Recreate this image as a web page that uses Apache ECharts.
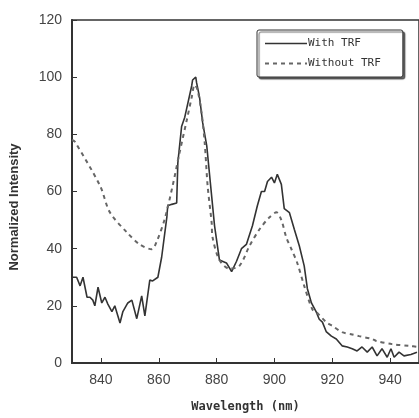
<!DOCTYPE html>
<html>
<head>
<meta charset="utf-8">
<script src="https://cdn.jsdelivr.net/npm/echarts@6/dist/echarts.min.js"></script>
<style>
html,body{margin:0;padding:0;background:#fff;}
#main{width:419px;height:418px;}
</style>
</head>
<body>
<div id="main"></div>
<script>
// wavelength (nm) / normalized intensity
var withTRF = [
  [830.3,30],[831.6,30],[832.8,27],[833.8,30],[835.2,23],[836.2,23],[837.2,22],[837.9,20],
  [839.0,26.5],[840.3,21],[841.4,23],[842.4,20.6],[843.8,18],[844.8,20],[846.6,14],[847.6,18],
  [849.3,21],[850.7,22],[852.4,15.5],[854.1,23.5],[855.2,16.5],[856.9,29],[857.9,28.7],[859.7,30],
  [861.0,37],[862.8,51],[863.1,55],[864.5,55.5],[866.2,56],[866.6,70],[867.9,82.7],[869.0,86],
  [871.4,97],[871.7,99],[872.8,100],[873.1,98],[874.1,93],[875.2,84],[876.6,76],[879.3,48],
  [881.0,36],[883.4,35],[885.2,32],[886.9,35.6],[888.6,40],[890.3,41.5],[892.4,48],[894.1,55],
  [895.5,60],[896.6,60],[897.6,63.5],[899.0,65],[900.0,63],[901.0,66],[902.4,62.5],[903.4,54],
  [905.2,52.6],[906.9,46.7],[908.6,41],[910.3,34],[911.4,26],[912.8,21],[914.5,17.8],[915.5,15.3],
  [916.6,14.3],[917.9,11],[919.7,9.4],[921.4,8.4],[923.4,6],[925.2,5.6],[926.9,5],[928.6,4.2],
  [930.3,5.6],[932.1,3.8],[933.8,5.6],[935.5,2.5],[937.2,5],[939.0,2],[940.3,5],[941.4,2],
  [943.1,3.8],[944.8,2.5],[947.2,3],[949.3,3.8]
];
var withoutTRF = [
  [830,78],[831.0,77.4],[839.7,62],[843.1,52.7],[849.0,45.7],[853.4,41.5],[857.6,39.8],[859.3,42.5],
  [862.1,50.5],[864.8,62],[867.2,73.6],[869.7,85],[871.4,93],[872.4,97.3],[873.4,95.6],[874.8,87.5],
  [875.9,77],[876.9,62],[878.3,49],[878.6,44],[881.0,36],[884.5,33],[887.9,34],[891.4,41],
  [894.8,46.7],[898.3,51],[900.7,52.7],[902.4,50],[904.1,44],[905.9,39.8],[907.9,35],[910.3,27],
  [913.1,18.8],[914.5,17.8],[917.9,14.3],[920.0,13],[923.4,10.8],[926.9,10],[929.3,9.4],[933.8,8.4],
  [935.2,7.7],[940.7,6.6],[946.6,6],[949.7,5.6]
];
var xTicks = [840, 860, 880, 900, 920, 940];
var seriesNames = ['With TRF', 'Without TRF'];

var font = "'Liberation Sans Narrow', 'Liberation Sans', Arial, sans-serif";
var mono = "'DejaVu Sans Mono', monospace";
// legend samples: a plain line and a dashed one
var solidIcon = 'path://M0,0h42v1.5H0z';
var dashIcon = 'path://M0,0h4v2H0zM8,0h4v2H8zM16,0h4v2H16zM24,0h4v2H24zM32,0h4v2H32zM40,0h2v2H40z';

var myChart = echarts.init(document.getElementById('main'));
var option = {
  animation: false,
  backgroundColor: '#fff',
  grid: {
    left: 72, top: 20, right: -1, bottom: 54,
    show: true, borderColor: '#333', borderWidth: 1.5
  },
  legend: {
    data: [
      { name: seriesNames[0], icon: solidIcon },
      { name: seriesNames[1], icon: dashIcon }
    ],
    orient: 'vertical',
    left: 257, top: 30,
    itemWidth: 42, itemHeight: 2, itemGap: 9,
    padding: [8, 22, 8, 8],
    backgroundColor: '#fff',
    borderColor: '#333', borderWidth: 1, borderRadius: 2,
    shadowColor: 'rgba(0,0,0,0.6)', shadowOffsetX: 2, shadowOffsetY: 2, shadowBlur: 1,
    textStyle: { fontFamily: mono, fontSize: 11, color: '#333', padding: [0, 0, 0, -4] }
  },
  xAxis: {
    type: 'value', min: 830, max: 950,
    name: 'Wavelength (nm)', nameLocation: 'middle', nameGap: 38,
    nameTextStyle: { fontFamily: mono, fontSize: 12, fontWeight: 'bold', color: '#333' },
    axisLine: { lineStyle: { color: '#333', width: 2 } },
    axisTick: { inside: true, length: 5, customValues: xTicks, lineStyle: { color: '#333' } },
    axisLabel: { customValues: xTicks, margin: 10, fontFamily: font, fontSize: 14, color: '#444' },
    splitLine: { show: false }
  },
  yAxis: {
    type: 'value', min: 0, max: 120, interval: 20,
    axisLine: { show: true, lineStyle: { color: '#333', width: 2 } },
    axisTick: { show: true, inside: true, length: 5, lineStyle: { color: '#333' } },
    axisLabel: { margin: 10, fontFamily: font, fontSize: 14, color: '#444' },
    splitLine: { show: false }
  },
  graphic: [{
    type: 'text', x: 14, y: 207, rotation: Math.PI / 2,
    style: {
      text: 'Normalized Intensity', fontFamily: font, fontSize: 13, fontWeight: 'bold',
      fill: '#333', align: 'center', verticalAlign: 'middle'
    }
  }],
  series: [
    {
      name: seriesNames[0], type: 'line', data: withTRF, symbol: 'none',
      lineStyle: { color: '#333', width: 1.6 }, itemStyle: { color: '#333' }
    },
    {
      name: seriesNames[1], type: 'line', data: withoutTRF, symbol: 'none', smooth: 0.3,
      lineStyle: { color: '#666', width: 2, type: [4, 4] }, itemStyle: { color: '#666' }
    }
  ]
};
myChart.setOption(option);
</script>
</body>
</html>
